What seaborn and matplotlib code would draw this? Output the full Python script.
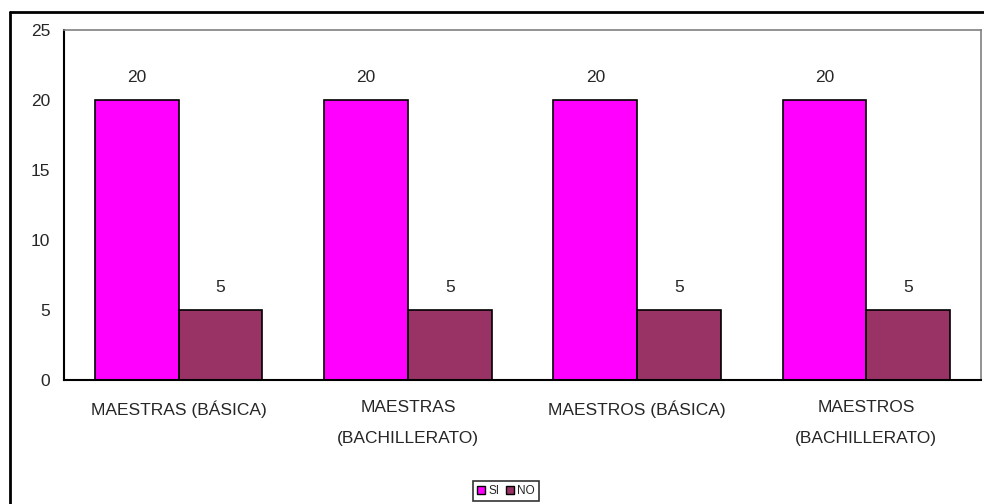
import matplotlib
matplotlib.use("Agg")
import matplotlib.pyplot as plt
import seaborn as sns
import pandas as pd
from matplotlib.patches import Rectangle
from matplotlib.lines import Line2D

categories = ["MAESTRAS (BÁSICA)", "MAESTRAS\n(BACHILLERATO)", "MAESTROS (BÁSICA)", "MAESTROS\n(BACHILLERATO)"]
si_values = [20, 20, 20, 20]
no_values = [5, 5, 5, 5]
series = ["SI", "NO"]
colors = ["#FF00FF", "#993366"]

df = pd.DataFrame({
    "cat": categories * 2,
    "serie": ["SI"] * 4 + ["NO"] * 4,
    "val": si_values + no_values,
})

sns.set_style("white")
plt.rcParams["font.family"] = ["Liberation Sans", "DejaVu Sans"]

fig = plt.figure(figsize=(9.84, 5.04), dpi=100)
ax = fig.add_axes([64/984, 1-380/504, (981-64)/984, (380-30)/504])

sns.barplot(data=df, x="cat", y="val", hue="serie", hue_order=series,
            palette=colors, order=categories, width=0.73, ax=ax,
            edgecolor="black", linewidth=1.2, saturation=1, legend=False)

for c in ax.containers:
    ax.bar_label(c, labels=[f"{v:.0f}" for v in c.datavalues], padding=10.5, fontsize=12.5)

ax.set_ylim(0, 25)
ax.set_yticks([0, 5, 10, 15, 20, 25])
ax.set_xlim(-0.5, 3.5)
ax.set_xlabel("")
ax.set_ylabel("")
ax.tick_params(axis="y", labelsize=12.5, length=0, pad=10)
ax.tick_params(axis="x", labelsize=12.5, length=0, pad=14.5)
for s in ["top", "right"]:
    ax.spines[s].set_color("#808080")
    ax.spines[s].set_linewidth(1.2)
for s in ["left", "bottom"]:
    ax.spines[s].set_color("black")
    ax.spines[s].set_linewidth(1.5)
for lab in ax.get_xticklabels():
    lab.set_linespacing(2.3)

# outer chart border
fig.add_artist(Line2D([10/984, 10/984], [0, 1-12/504], transform=fig.transFigure, color="black", lw=2))
fig.add_artist(Line2D([10/984, 1], [1-12/504, 1-12/504], transform=fig.transFigure, color="black", lw=2))

handles = [Rectangle((0, 0), 1, 1, facecolor=col, edgecolor="black", lw=1) for col in colors]
leg = fig.legend(handles, series, loc="center", bbox_to_anchor=(506/984, 1-491/504),
                 ncol=2, fontsize=8.5, frameon=True, fancybox=False, edgecolor="black",
                 handlelength=0.7, handleheight=0.7, handletextpad=0.3, columnspacing=0.5,
                 borderpad=0.3, borderaxespad=0)
leg.get_frame().set_linewidth(1.2)

fig.savefig("out.png", dpi=100)
